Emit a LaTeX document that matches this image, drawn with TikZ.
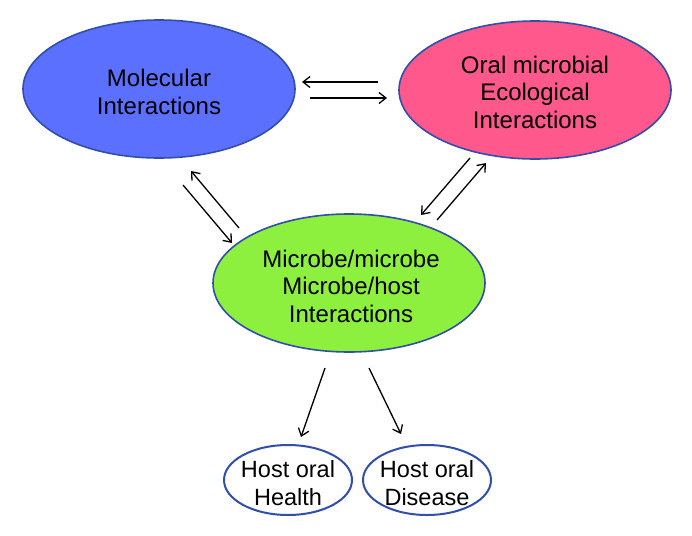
\documentclass[tikz,border=0pt]{standalone}
\usepackage{fontspec}
\setmainfont{Liberation Sans}
\usetikzlibrary{shapes.geometric,arrows.meta}
\definecolor{mblue}{RGB}{92,112,255}
\definecolor{mpink}{RGB}{255,88,140}
\definecolor{mgreen}{RGB}{142,240,62}
\definecolor{edge}{RGB}{48,78,170}
\tikzset{
  bigell/.style={ellipse, draw=edge, line width=1.6pt, minimum width=272pt, minimum height=138pt, inner sep=0pt, align=center, font=\fontsize{24}{27.5}\selectfont},
  smallell/.style={ellipse, draw=edge, line width=2pt, fill=white, minimum width=128pt, minimum height=70pt, inner sep=0pt, align=center, font=\fontsize{23.5}{28}\selectfont},
  conn/.style={line width=1.3pt, -{Straight Barb[length=7pt,width=11pt,line width=1.3pt]}}
}
\begin{document}
\begin{tikzpicture}[x=1pt,y=-1pt]
\useasboundingbox (0,0) rectangle (692,535);
\node[bigell, fill=mblue] (mol) at (159,89) {};
\node[bigell, fill=mpink] (oral) at (535,90) {};
\node[bigell, fill=mgreen] (mic) at (349,283) {};
\node[smallell] (health) at (288,480) {};
\node[smallell] (disease) at (427,480) {};
\node[font=\fontsize{24}{27.5}\selectfont, align=center] (molt) at (159,92) {Molecular\\Interactions};
\node[font=\fontsize{24}{27.5}\selectfont, align=center] (oralt) at (535,92) {Oral microbial\\Ecological\\Interactions};
\node[font=\fontsize{24}{27.5}\selectfont, align=center] (mict) at (351,286) {Microbe/microbe\\Microbe/host\\Interactions};
\node[font=\fontsize{23.5}{28}\selectfont, align=center] (healtht) at (288,483) {Host oral\\Health};
\node[font=\fontsize{23.5}{28}\selectfont, align=center] (diseaset) at (427,483) {Host oral\\Disease};
% endpoints
\coordinate (a1s) at (378,82); \coordinate (a1e) at (302,82);
\coordinate (a2s) at (310,98); \coordinate (a2e) at (387,98);
\coordinate (b1s) at (239,228); \coordinate (b1e) at (191,171);
\coordinate (b2s) at (183,185); \coordinate (b2e) at (232,243);
\coordinate (c1s) at (470,158); \coordinate (c1e) at (421,215);
\coordinate (c2s) at (437,220); \coordinate (c2e) at (486,163);
\coordinate (d1s) at (325,368); \coordinate (d1e) at (301,437);
\coordinate (d2s) at (369,368); \coordinate (d2e) at (401,434);
\draw[conn] (a1s) -- (a1e);
\draw[conn] (a2s) -- (a2e);
\draw[conn] (b1s) -- (b1e);
\draw[conn] (b2s) -- (b2e);
\draw[conn] (c1s) -- (c1e);
\draw[conn] (c2s) -- (c2e);
\draw[conn] (d1s) -- (d1e);
\draw[conn] (d2s) -- (d2e);
\end{tikzpicture}
\end{document}
